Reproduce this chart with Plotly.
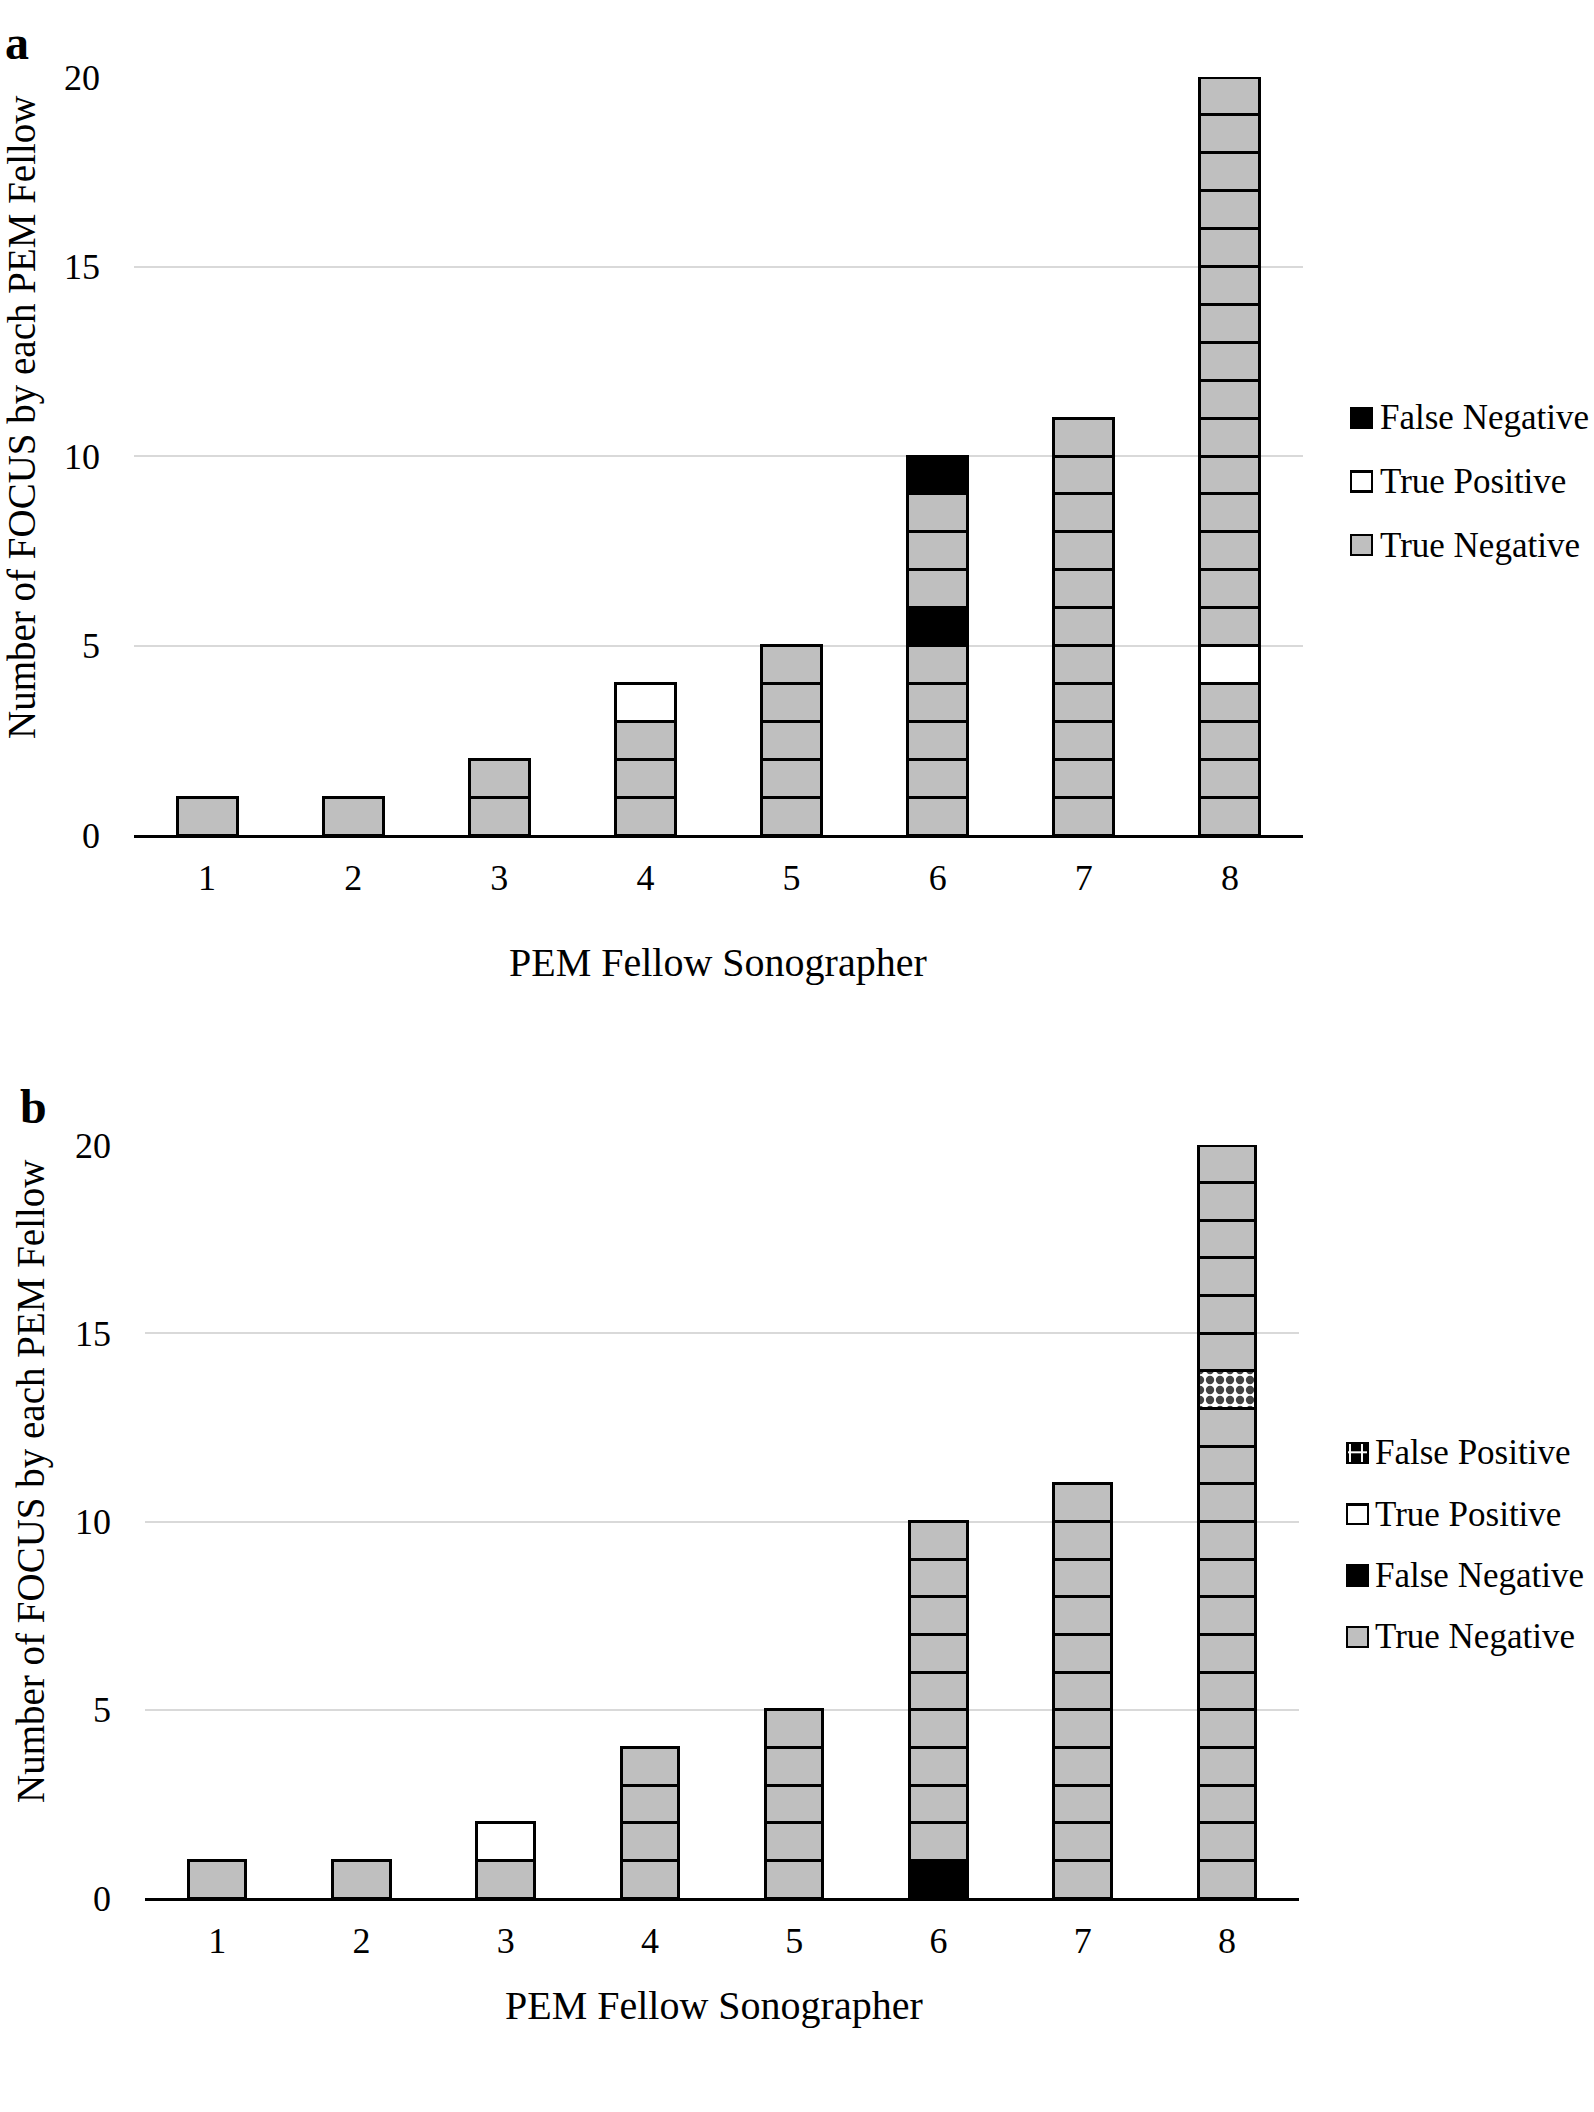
import plotly.graph_objects as go

# ---------------- data ----------------
sonographers = [1, 2, 3, 4, 5, 6, 7, 8]
y_ticks = [0, 5, 10, 15, 20]

# each list = exams of one sonographer, from bottom cell to top cell
panel_a_cells = [
    ["TN"],
    ["TN"],
    ["TN", "TN"],
    ["TN", "TN", "TN", "TP"],
    ["TN", "TN", "TN", "TN", "TN"],
    ["TN", "TN", "TN", "TN", "TN", "FN", "TN", "TN", "TN", "FN"],
    ["TN", "TN", "TN", "TN", "TN", "TN", "TN", "TN", "TN", "TN", "TN"],
    ["TN", "TN", "TN", "TN", "TP", "TN", "TN", "TN", "TN", "TN",
     "TN", "TN", "TN", "TN", "TN", "TN", "TN", "TN", "TN", "TN"],
]
panel_b_cells = [
    ["TN"],
    ["TN"],
    ["TN", "TP"],
    ["TN", "TN", "TN", "TN"],
    ["TN", "TN", "TN", "TN", "TN"],
    ["FN", "TN", "TN", "TN", "TN", "TN", "TN", "TN", "TN", "TN"],
    ["TN", "TN", "TN", "TN", "TN", "TN", "TN", "TN", "TN", "TN", "TN"],
    ["TN", "TN", "TN", "TN", "TN", "TN", "TN", "TN", "TN", "TN",
     "TN", "TN", "TN", "FP", "TN", "TN", "TN", "TN", "TN", "TN"],
]

category_names = {"TN": "True Negative", "TP": "True Positive",
                  "FN": "False Negative", "FP": "False Positive"}
legend_a_order = ["FN", "TP", "TN"]
legend_b_order = ["FP", "TP", "FN", "TN"]

x_title = "PEM Fellow Sonographer"
y_title = "Number of FOCUS by each PEM Fellow"

# ---------------- styles ----------------
FONT = "Liberation Serif"
W, H = 1594, 2112
fill = {"TN": "#bfbfbf", "TP": "#ffffff", "FN": "#000000", "FP": "#ffffff"}
shape = {"TN": "", "TP": "", "FN": "", "FP": "."}
leg_fill = {"TN": "#bfbfbf", "TP": "#ffffff", "FN": "#000000", "FP": "#000000"}
leg_shape = {"TN": "", "TP": "", "FN": "", "FP": "+"}


def px_x(p):
    return p / W


def px_y(p):
    return 1 - p / H


fig = go.Figure()


def add_panel(cells, xa, ya, width):
    maxh = max(len(c) for c in cells)
    for k in range(maxh):
        xs, cats = [], []
        for s, c in zip(sonographers, cells):
            if len(c) > k:
                xs.append(s)
                cats.append(c[k])
        fig.add_trace(go.Bar(
            x=xs, y=[1] * len(xs), xaxis=xa, yaxis=ya, width=width,
            marker=dict(color=[fill[c] for c in cats],
                        line=dict(color="black", width=3),
                        pattern=dict(shape=[shape[c] for c in cats],
                                     fillmode="overlay", fgopacity=1,
                                     fgcolor="black", size=10, solidity=0.55)),
            showlegend=False, hoverinfo="skip"))


def add_legend(order, xa, ya, width):
    rows = list(range(len(order)))
    fig.add_trace(go.Bar(
        x=[1] * len(order), y=rows, orientation="h", xaxis=xa, yaxis=ya,
        width=width,
        marker=dict(color=[leg_fill[c] for c in order],
                    line=dict(color="black", width=2.5),
                    pattern=dict(shape=[leg_shape[c] for c in order],
                                 fillmode="overlay", fgopacity=1,
                                 fgcolor="white", size=12, solidity=0.3)),
        showlegend=False, hoverinfo="skip"))
    return rows


add_panel(panel_a_cells, "x", "y", 0.41)
add_panel(panel_b_cells, "x2", "y2", 0.40)
rows_a = add_legend(legend_a_order, "x3", "y3", 0.315)
rows_b = add_legend(legend_b_order, "x4", "y4", 0.326)

common_x = dict(range=[0.5, 8.5], tickmode="array", tickvals=sonographers,
                showline=True, linecolor="black", linewidth=3, showgrid=False,
                zeroline=False, ticks="", ticklabelstandoff=9,
                automargin=False,
                tickfont=dict(family=FONT, size=36, color="black"),
                fixedrange=True)
common_y = dict(range=[0, 20], tickmode="array", tickvals=y_ticks,
                showgrid=True, gridcolor="#d9d9d9", gridwidth=2,
                zeroline=False, showline=False, ticks="",
                ticklabelstandoff=33, automargin=False,
                tickfont=dict(family=FONT, size=36, color="black"),
                fixedrange=True)

fig.update_layout(
    template="none",
    width=W, height=H,
    margin=dict(l=0, r=0, t=0, b=0, pad=0, autoexpand=False),
    paper_bgcolor="white", plot_bgcolor="white",
    barmode="stack", showlegend=False,
    font=dict(family=FONT, color="black"),
    xaxis=dict(common_x, domain=[px_x(134), px_x(1303)], anchor="y"),
    yaxis=dict(common_y, domain=[px_y(835), px_y(77)], anchor="x"),
    xaxis2=dict(common_x, domain=[px_x(145), px_x(1299)], anchor="y2"),
    yaxis2=dict(common_y, domain=[px_y(1898), px_y(1145)], anchor="x2"),
    xaxis3=dict(domain=[px_x(1348), px_x(1375)], range=[-0.15, 1.15],
                visible=False, anchor="y3", fixedrange=True, automargin=False),
    yaxis3=dict(domain=[px_y(386.25 + 190.5), px_y(386.25)],
                range=[2.5, -0.5], visible=False, anchor="x3",
                fixedrange=True, automargin=False),
    xaxis4=dict(domain=[px_x(1344), px_x(1371)], range=[-0.15, 1.15],
                visible=False, anchor="y4", fixedrange=True, automargin=False),
    yaxis4=dict(domain=[px_y(1422.3 + 245.2), px_y(1422.3)],
                range=[3.5, -0.5], visible=False, anchor="x4",
                fixedrange=True, automargin=False),
)

ann = []
for r, c in zip(rows_a, legend_a_order):
    ann.append(dict(text=category_names[c], xref="paper", yref="y3",
                    x=px_x(1378), y=r, xanchor="left", yanchor="middle",
                    showarrow=False, font=dict(family=FONT, size=35)))
for r, c in zip(rows_b, legend_b_order):
    ann.append(dict(text=category_names[c], xref="paper", yref="y4",
                    x=px_x(1373), y=r, xanchor="left", yanchor="middle",
                    showarrow=False, font=dict(family=FONT, size=35)))

# axis titles
ann.append(dict(text=x_title, xref="paper", yref="paper", x=px_x(718),
                y=px_y(962), xanchor="center", yanchor="middle",
                showarrow=False, font=dict(family=FONT, size=40)))
ann.append(dict(text=x_title, xref="paper", yref="paper", x=px_x(714),
                y=px_y(2005), xanchor="center", yanchor="middle",
                showarrow=False, font=dict(family=FONT, size=40)))
ann.append(dict(text=y_title, xref="paper", yref="paper", x=px_x(22),
                y=px_y(418), xanchor="center", yanchor="middle", textangle=-90,
                showarrow=False, font=dict(family=FONT, size=39)))
ann.append(dict(text=y_title, xref="paper", yref="paper", x=px_x(31),
                y=px_y(1482), xanchor="center", yanchor="middle", textangle=-90,
                showarrow=False, font=dict(family=FONT, size=39)))
# panel letters
ann.append(dict(text="<b>a</b>", xref="paper", yref="paper", x=px_x(17),
                y=px_y(42), xanchor="center", yanchor="middle",
                showarrow=False, font=dict(family=FONT, size=48)))
ann.append(dict(text="<b>b</b>", xref="paper", yref="paper", x=px_x(33),
                y=px_y(1106), xanchor="center", yanchor="middle",
                showarrow=False, font=dict(family=FONT, size=48)))
fig.update_layout(annotations=ann)

fig.write_html("out.html", config={"displayModeBar": False},
               post_script="document.body.style.margin='0';")
